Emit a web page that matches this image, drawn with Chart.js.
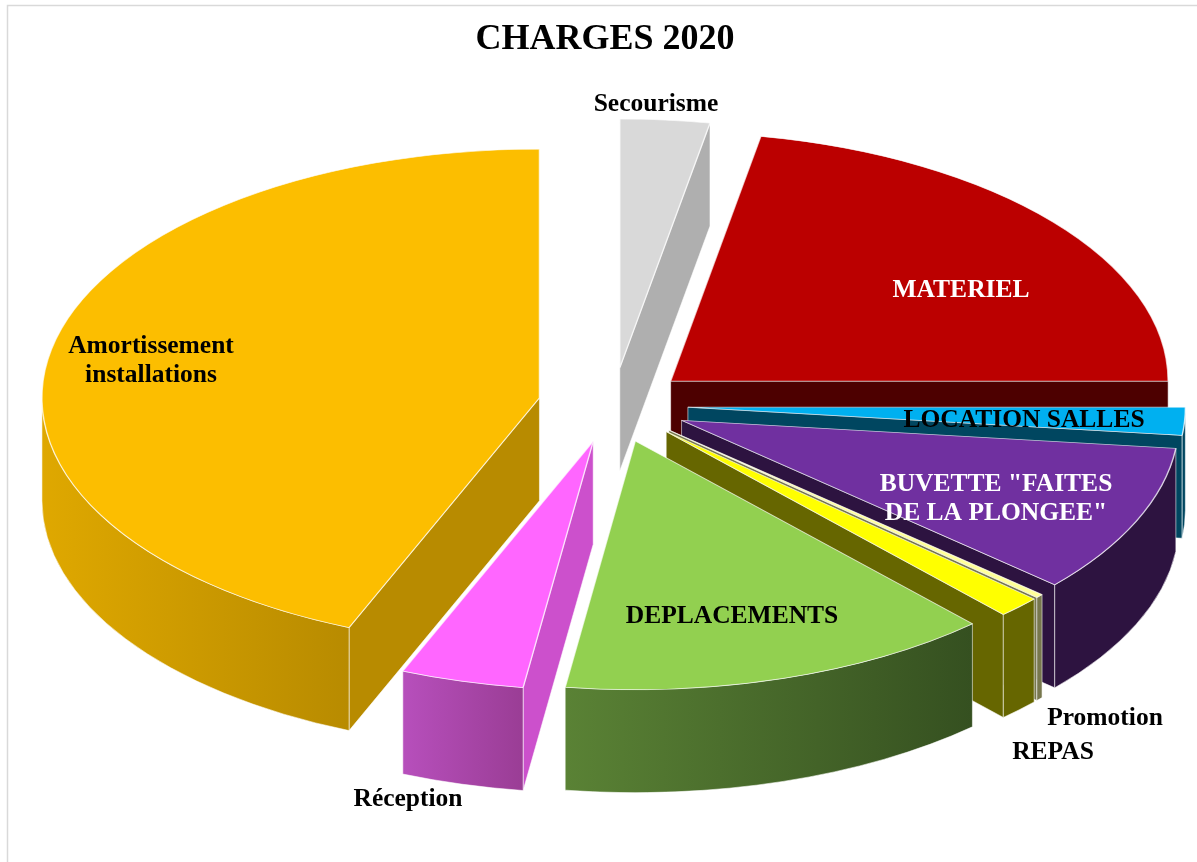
<!DOCTYPE html>
<html>
<head>
<meta charset="utf-8">
<title>CHARGES 2020</title>
<script src="https://cdn.jsdelivr.net/npm/chart.js@4"></script>
<style>
  html, body { margin: 0; background: #fff; }
  canvas { display: block; }
</style>
</head>
<body>
<canvas id="charges-chart" width="1197" height="862"></canvas>
<script>
const categories = ['Secourisme', 'MATERIEL', 'LOCATION SALLES', 'BUVETTE "FAITES\nDE LA PLONGEE"',
  'Promotion', 'REPAS', 'DEPLACEMENTS', 'Réception', 'Amortissement\ninstallations'];
const shares = [2.9, 22.1, 1.8, 9.7, 0.25, 1.4, 14.1, 4.0, 43.75];

const topColors = ['#d9d9d9', '#bb0000', '#00b0f0', '#7030a0', '#ffff99', '#ffff00', '#92d050', '#ff66ff', '#fcbe00'];
const cutColors = ['#afafaf', '#4d0000', '#004660', '#2d1340', '#77774d', '#666600', '#375020', '#cc50cc', '#b88b00'];
const rimLeft = ['#afafaf', '#4d0000', '#004660', '#2d1340', '#77774d', '#666600', '#5a8235', '#b74fbc', '#dfa800'];
const rimRight = ['#afafaf', '#4d0000', '#004660', '#2d1340', '#77774d', '#666600', '#355020', '#9a3d95', '#b88b00'];
const labelColors = ['#000', '#fff', '#000', '#fff', '#000', '#000', '#000', '#000', '#000'];
const labelSpots = [[656, 104], [961, 290], [1024, 420], [996, 484], [1105, 718], [1053, 752], [732, 616], [408, 799], [151, 346]];

// look of the 3d pie, in screen pixels
const RADIUS_X = 497.5;
const TILT = 0.5;
const DEPTH = 103;
const EXPLODE = 75;
const SHIFT_X = 8;

function slicePose(arc) {
  const mid = (arc.startAngle + arc.endAngle) / 2;
  const sx = RADIUS_X / arc.outerRadius;
  return {
    sx: sx,
    sy: sx * TILT,
    px: arc.x + SHIFT_X + EXPLODE * Math.cos(mid),
    py: arc.y + EXPLODE * TILT * Math.sin(mid)
  };
}

function enterSlice(ctx, arc) {
  const pose = slicePose(arc);
  ctx.translate(pose.px, pose.py);
  ctx.scale(pose.sx, pose.sy);
  ctx.translate(-arc.x, -arc.y);
  return pose;
}

function drawCut(ctx, arc, a, color) {
  const R = arc.outerRadius;
  ctx.save();
  const pose = enterSlice(ctx, arc);
  const D = DEPTH / pose.sy;
  ctx.beginPath();
  ctx.moveTo(arc.x, arc.y);
  ctx.lineTo(arc.x + R * Math.cos(a), arc.y + R * Math.sin(a));
  ctx.lineTo(arc.x + R * Math.cos(a), arc.y + R * Math.sin(a) + D);
  ctx.lineTo(arc.x, arc.y + D);
  ctx.closePath();
  ctx.fillStyle = color;
  ctx.fill();
  ctx.restore();
  ctx.strokeStyle = 'rgba(255,255,255,0.55)';
  ctx.lineWidth = 1;
  ctx.stroke();
}

function drawSides(ctx, arc, i) {
  const R = arc.outerRadius;

  // only the cut faces turned towards the viewer
  if (Math.cos(arc.startAngle) < -1e-6) drawCut(ctx, arc, arc.startAngle, cutColors[i]);
  if (Math.cos(arc.endAngle) > 1e-6) drawCut(ctx, arc, arc.endAngle, cutColors[i]);

  const from = Math.max(arc.startAngle, 0);
  const to = Math.min(arc.endAngle, Math.PI);
  if (to <= from) return;

  ctx.save();
  const pose = enterSlice(ctx, arc);
  const D = DEPTH / pose.sy;
  const xa = arc.x + R * Math.cos(to);
  const xb = arc.x + R * Math.cos(from);
  const grad = ctx.createLinearGradient(xa, 0, xb, 0);
  grad.addColorStop(0, rimLeft[i]);
  grad.addColorStop(1, rimRight[i]);
  ctx.beginPath();
  ctx.arc(arc.x, arc.y, R, from, to);
  ctx.lineTo(xa, arc.y + R * Math.sin(to) + D);
  ctx.arc(arc.x, arc.y + D, R, to, from, true);
  ctx.closePath();
  ctx.fillStyle = grad;
  ctx.fill();
  ctx.restore();
  ctx.strokeStyle = 'rgba(255,255,255,0.55)';
  ctx.lineWidth = 1;
  ctx.stroke();
}

const explodedPie = {
  id: 'explodedPie',
  beforeDatasetDraw(chart) {
    const ctx = chart.ctx;
    const arcs = chart.getDatasetMeta(0).data;
    const order = arcs.map((arc, i) => i).sort((a, b) =>
      Math.sin((arcs[a].startAngle + arcs[a].endAngle) / 2) -
      Math.sin((arcs[b].startAngle + arcs[b].endAngle) / 2));

    order.forEach((i) => drawSides(ctx, arcs[i], i));
    order.forEach((i) => {
      ctx.save();
      enterSlice(ctx, arcs[i]);
      arcs[i].draw(ctx);
      ctx.restore();
    });
    return false;
  },
  afterDraw(chart) {
    const ctx = chart.ctx;
    ctx.save();
    ctx.font = 'bold 25.5px "Liberation Serif"';
    ctx.textAlign = 'center';
    ctx.textBaseline = 'middle';
    categories.forEach((name, i) => {
      ctx.fillStyle = labelColors[i];
      name.split('\n').forEach((line, n) => {
        ctx.fillText(line, labelSpots[i][0], labelSpots[i][1] + n * 29);
      });
    });
    ctx.restore();

    // chart frame, only left and top are inside the picture
    ctx.save();
    ctx.strokeStyle = '#d9d9d9';
    ctx.lineWidth = 1.5;
    ctx.beginPath();
    ctx.moveTo(7.5, 862);
    ctx.lineTo(7.5, 5.5);
    ctx.lineTo(1197, 5.5);
    ctx.stroke();
    ctx.restore();
  }
};

new Chart(document.getElementById('charges-chart'), {
  type: 'pie',
  data: {
    labels: categories,
    datasets: [{
      data: shares,
      backgroundColor: topColors,
      borderColor: 'rgba(255,255,255,0.7)',
      borderWidth: 1
    }]
  },
  options: {
    responsive: false,
    animation: false,
    layout: { padding: { left: 13, top: 18, bottom: 113 } },
    plugins: {
      legend: { display: false },
      tooltip: { enabled: false },
      title: {
        display: true,
        text: 'CHARGES 2020',
        color: '#000',
        font: { family: '"Liberation Serif"', size: 36, weight: 'bold' },
        padding: { top: 0, bottom: 0 }
      }
    }
  },
  plugins: [explodedPie]
});
</script>
</body>
</html>
